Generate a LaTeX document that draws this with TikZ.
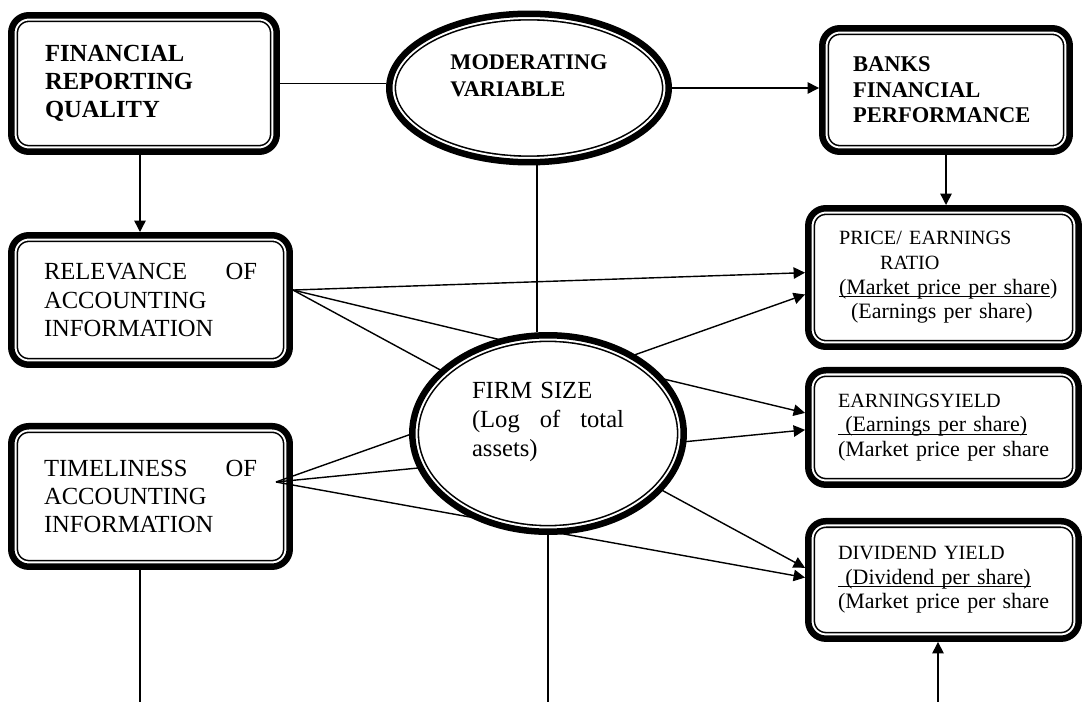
\documentclass[tikz,border=0pt]{standalone}
\usepackage{fontspec}
\setmainfont{Liberation Serif}
\usetikzlibrary{positioning, arrows.meta, calc, shapes.geometric}

\newcommand{\ttlsize}{\fontsize{11.5}{14}\selectfont}
\newcommand{\ratioline}[1]{\underline{\smash{#1}}}

\begin{document}
\begin{tikzpicture}[
  x=0.02cm, y=0.02cm,
  dbox/.style={rectangle, draw, fill=white, line width=3.7pt, rounded corners=10pt,
    inner sep=0pt, align=left,
    path picture={
      \draw[line width=7.8pt, rounded corners=10pt]
        (path picture bounding box.south west) rectangle (path picture bounding box.north east);
      \draw[white, line width=6pt, rounded corners=10pt]
        (path picture bounding box.south west) rectangle (path picture bounding box.north east);
    }},
  dell/.style={ellipse, draw, fill=white, line width=3.7pt, inner sep=0pt,
    path picture={
      \draw[line width=7.8pt]
        let \p1=($(path picture bounding box.north east)-(path picture bounding box.center)$)
        in (path picture bounding box.center) ellipse [x radius=\x1, y radius=\y1];
      \draw[white, line width=6pt]
        let \p1=($(path picture bounding box.north east)-(path picture bounding box.center)$)
        in (path picture bounding box.center) ellipse [x radius=\x1, y radius=\y1];
    }},
  headb/.style={font=\fontsize{14}{16}\selectfont\bfseries},
  heads/.style={font=\fontsize{12.8}{14.5}\selectfont\bfseries},
  infotxt/.style={font=\fontsize{14}{16.2}\selectfont},
  ratiotxt/.style={font=\fontsize{12.5}{14}\selectfont},
  modtxt/.style={font=\fontsize{12.7}{15.4}\selectfont\bfseries, align=left, yshift=0.24cm},
  firmtxt/.style={font=\fontsize{14}{16.5}\selectfont, align=left, text width=3.04cm,
    inner sep=0pt, yshift=0.24cm},
  conn/.style={line width=0.8pt},
  arr/.style={line width=0.8pt, -{Triangle[length=6.5pt, width=6.5pt]}}
]
\useasboundingbox (0,0) rectangle (1084,-702);

% Top row
\node[dbox, headb, minimum width=5.31cm, minimum height=2.73cm, text width=3.96cm]
  (frq) at (144,-83.5) {FINANCIAL\\REPORTING\\QUALITY};
\node[dell, minimum width=5.59cm, minimum height=2.97cm,
  label={[modtxt]center:{MODERATING\\VARIABLE}}] (mod) at (529,-88) {};
\node[dbox, heads, minimum width=4.95cm, minimum height=2.47cm, text width=3.72cm]
  (bfp) at (946,-90) {BANKS\\FINANCIAL\\PERFORMANCE};

% Left column
\node[dbox, infotxt, minimum width=5.57cm, minimum height=2.59cm, text width=4.26cm]
  (rel) at (150.5,-300) {\leavevmode\hbox to 4.26cm{RELEVANCE\hfil OF}\\ACCOUNTING\\INFORMATION};
\node[dbox, infotxt, minimum width=5.57cm, minimum height=2.81cm, text width=4.26cm,
  below=1.1cm of rel] (tim) {\leavevmode\hbox to 4.26cm{TIMELINESS\hfil OF}\\ACCOUNTING\\INFORMATION};

% Right column
\node[dbox, ratiotxt, minimum width=5.41cm, minimum height=2.77cm, text width=4.18cm]
  (pe) at (943.5,-277.5) {{\ttlsize PRICE/ EARNINGS}\\
  \hspace*{0.82cm}{\ttlsize RATIO}\\
  \mbox{\ratioline{(Market price per share})}\\
  \hspace*{0.24cm}(Earnings per share)};
\node[dbox, ratiotxt, minimum width=5.41cm, minimum height=2.29cm, text width=4.22cm,
  below=0.34cm of pe] (ey) {{\ttlsize EARNINGSYIELD}\\
  \ratioline{\ (Earnings per share)}\\
  \mbox{(Market price per share}};
\node[dbox, ratiotxt, minimum width=5.41cm, minimum height=2.35cm, text width=4.22cm,
  below=0.6cm of ey] (dy) {{\ttlsize DIVIDEND YIELD}\\
  \ratioline{\ (Dividend per share)}\\
  \mbox{(Market price per share}};

% Free ends
\coordinate (t0) at (276,-482);
\coordinate (b1) at (140,-702);
\coordinate (b2) at (548,-702);
\coordinate (b3) at (938,-702);
\coordinate (vm) at (537,0);

% Top connectors
\draw[conn] (frq.east) -- (frq.east -| mod.west);
\draw[arr] (mod.east) -- (mod.east -| bfp.west);
\draw[arr] (frq.south -| b1) -- (rel.north -| b1);
\draw[arr] (bfp.south) -- (bfp.south |- pe.north);

% Lines leaving the page
\draw[conn] (tim.south -| b1) -- (b1);
\draw[arr] (b3) -- (b3 |- dy.south);

% Fan of arrows
\draw[arr] (rel.4) -- (pe.178);
\draw[arr] (rel.4) -- (ey.174);
\draw[arr] (rel.4) -- (dy.175);
\draw[arr] (t0) -- (pe.187);
\draw[arr] (t0) -- (ey.181);
\draw[arr] (t0) -- (dy.179);

% Firm size on top of the fan
\node[dell, minimum width=5.43cm, minimum height=3.93cm,
  label={[firmtxt]center:{FIRM SIZE\\\leavevmode\hbox to 3.04cm{(Log\hfil of\hfil total}\\assets)}}]
  (firm) at (548,-433.5) {};
\draw[conn] (vm |- mod.south) -- (vm |- firm.north);
\draw[conn] (firm.south) -- (firm.south |- b2);

\end{tikzpicture}
\end{document}
